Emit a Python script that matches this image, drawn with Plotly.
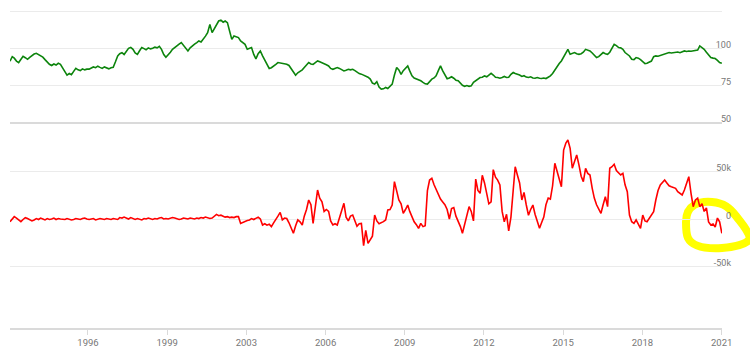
import pandas as pd
import plotly.graph_objects as go

# ---------------- data (monthly) ----------------
dates = pd.date_range("1994-01-01", "2021-01-01", freq="MS")

dollar_index = [
    # 1994
    91.4, 94.5, 93.5, 91.5, 90.5, 92.5, 94.7, 93.8, 92.7, 94.0, 95.5, 96.3,
    # 1995
    96.8, 96.0, 95.5, 94.2, 92.5, 90.5, 89.3, 88.5, 89.5, 88.8, 90.0, 89.3,
    # 1996
    86.5, 84.0, 81.9, 83.0, 82.2, 84.5, 86.6, 85.5, 85.0, 86.2, 85.5, 86.0,
    # 1997
    86.0, 86.8, 87.5, 87.0, 88.0, 87.2, 86.5, 87.5, 86.8, 86.2, 87.0, 87.3,
    # 1998
    91.0, 95.0, 96.5, 97.2, 96.0, 98.0, 100.2, 100.8, 99.5, 97.0, 96.1, 98.5,
    # 1999
    100.8, 100.0, 99.2, 100.5, 99.8, 100.2, 101.0, 100.5, 101.5, 99.5, 96.0, 94.1,
    # 2000
    95.5, 97.5, 99.5, 100.5, 101.5, 103.0, 104.1, 102.0, 100.0, 98.4, 100.5, 102.0,
    # 2001
    103.0, 104.1, 105.2, 104.5, 106.3, 108.5, 110.9, 116.5, 110.9, 113.5, 116.0, 118.8,
    # 2002
    119.4, 118.0, 118.8, 117.7, 112.0, 106.3, 108.6, 108.0, 107.5, 105.2, 104.0, 102.9,
    # 2003
    99.5, 100.0, 100.7, 96.0, 93.0, 96.5, 98.4, 95.0, 92.0, 89.3, 86.5, 87.0,
    # 2004
    88.5, 89.3, 90.5, 90.2, 90.0, 89.5, 89.3, 88.5, 86.0, 84.0, 81.9, 83.5,
    # 2005
    84.5, 85.5, 87.1, 88.5, 90.5, 89.5, 89.3, 90.5, 91.6, 91.0, 90.5, 89.5,
    # 2006
    89.0, 88.2, 86.5, 85.9, 86.5, 87.1, 86.5, 85.5, 84.8, 85.3, 85.9, 85.5,
    # 2007
    85.9, 85.0, 84.0, 83.0, 82.6, 82.0, 81.4, 80.5, 79.2, 76.5, 75.8, 77.5,
    # 2008
    73.8, 72.4, 72.6, 73.5, 72.8, 74.5, 75.8, 82.0, 87.1, 85.5, 82.5, 85.0,
    # 2009
    86.5, 88.2, 84.8, 81.5, 80.0, 79.5, 78.5, 78.1, 77.0, 76.0, 75.8, 77.5,
    # 2010
    79.2, 80.0, 81.4, 85.0, 88.2, 84.8, 82.0, 79.5, 80.0, 80.8, 79.8, 78.5,
    # 2011
    78.1, 76.5, 75.0, 74.3, 74.8, 74.3, 74.6, 77.0, 78.1, 79.0, 80.3, 80.5,
    # 2012
    81.4, 80.8, 82.0, 83.2, 82.0, 80.5, 80.3, 79.8, 80.3, 81.0, 80.3, 80.5,
    # 2013
    82.5, 83.7, 83.0, 82.6, 82.0, 81.0, 81.5, 80.6, 80.3, 80.8, 80.0, 79.8,
    # 2014
    80.3, 79.8, 79.6, 80.0, 79.6, 80.5, 81.4, 83.0, 85.5, 88.2, 89.8, 91.6,
    # 2015
    94.5, 97.5, 99.5, 96.1, 96.8, 97.3, 96.5, 96.1, 96.5, 97.5, 99.5, 99.0,
    # 2016
    98.4, 97.0, 95.5, 93.9, 94.5, 96.0, 97.3, 96.5, 96.1, 97.5, 100.0, 102.9,
    # 2017
    102.0, 100.7, 100.5, 99.5, 97.3, 96.0, 95.0, 92.7, 92.5, 93.9, 93.5, 92.5,
    # 2018
    91.0, 89.8, 90.0, 90.5, 91.5, 94.5, 95.0, 94.8, 95.4, 96.0, 96.5, 97.0,
    # 2019
    97.3, 97.0, 97.3, 97.5, 97.7, 97.2, 98.0, 98.4, 98.0, 98.4, 98.2, 98.4,
    # 2020
    98.4, 99.0, 101.8, 100.5, 99.5, 97.5, 95.5, 93.9, 93.5, 93.2, 92.0, 90.5,
    # 2021
    90.0,
]

net_positions_k = [
    # 1994
    -2.8, 0.5, 2.5, 1.0, -1.0, -2.8, -0.5, 1.4, 0.5, -0.5, -2.0, -1.0,
    # 1995
    0.5, -0.5, 1.0, 0.0, -1.0, 0.5, -0.5, 0.0, 1.0, -0.5, 0.5, 0.0,
    # 1996
    0.0, -0.5, 0.5, 0.0, -1.0, -0.5, 0.5, 0.0, -0.5, 0.5, 1.0, 0.0,
    # 1997
    -0.5, 0.0, 0.5, -1.0, 0.0, 0.5, 0.0, -0.5, 0.5, 0.0, -0.5, 0.5,
    # 1998
    0.0, -0.5, 1.5, 1.0, 2.0, 1.0, 0.0, 1.5, 0.5, -0.5, 0.5, 0.0,
    # 1999
    -1.0, 0.5, 0.0, 1.0, 0.0, -0.5, 0.5, 0.0, 1.0, 1.5, 0.0, 0.5,
    # 2000
    0.0, 0.5, 1.5, 1.0, 0.5, -0.5, 0.0, 1.0, 0.5, 0.0, 1.0, 0.5,
    # 2001
    0.0, 1.0, 0.5, 1.5, 1.0, 2.0, 1.5, 0.5, 1.0, 2.5, 4.9, 3.5,
    # 2002
    4.0, 3.0, 2.0, 2.5, 1.5, 2.0, 1.5, 2.5, 2.5, -4.6, -3.5, -2.0,
    # 2003
    -1.5, -1.0, 0.5, -0.5, 1.0, 2.0, 0.0, -6.3, -5.0, -6.5, -5.5, -8.0,
    # 2004
    -4.0, 0.5, 3.0, 7.0, -1.0, 1.0, 0.5, -4.0, -10.0, -15.0, -7.0, -1.0,
    # 2005
    -3.0, -6.3, 3.0, 10.0, 20.0, 15.0, -4.6, 12.0, 30.5, 22.0, 18.2, 8.0,
    # 2006
    10.0, 8.0, -2.0, -6.3, -5.0, -6.3, 2.0, 10.0, 16.5, 2.0, -2.0, 3.0,
    # 2007
    4.2, -2.0, -7.7, -5.0, -4.6, -28.0, -12.0, -25.6, -22.0, -18.0, 4.2, -2.0,
    # 2008
    -5.0, -4.0, -2.8, -1.0, 9.5, 10.0, 14.7, 39.3, 28.0, 20.0, 16.0, 6.0,
    # 2009
    10.0, 14.7, 8.0, 2.0, -3.0, -6.0, -9.8, -4.6, -8.0, -7.0, 30.0, 41.0,
    # 2010
    42.8, 36.0, 31.0, 27.0, 21.0, 18.0, 15.0, 10.0, 0.0, 11.0, 12.0, 3.0,
    # 2011
    -2.0, -8.0, -15.0, -5.0, 4.2, 13.0, 8.0, -2.0, 42.0, 30.0, 27.0, 46.0,
    # 2012
    38.0, 26.0, 16.0, 18.0, 52.0, 44.0, 41.0, 35.8, 8.0, -3.0, 5.0, -12.6,
    # 2013
    2.0, 30.0, 55.0, 46.0, 38.0, 20.0, 28.0, 15.0, 4.0, 10.0, 14.7, 5.0,
    # 2014
    -2.8, -9.8, -4.0, 2.0, 15.0, 22.0, 21.0, 35.0, 58.6, 50.0, 42.0, 34.0,
    # 2015
    72.6, 80.0, 83.2, 74.4, 53.4, 60.0, 67.4, 57.0, 45.0, 39.3, 53.4, 48.0,
    # 2016
    46.3, 32.3, 22.0, 15.0, 11.2, 6.0, 15.0, 23.5, 13.0, 53.4, 55.0, 57.6,
    # 2017
    51.0, 48.0, 46.3, 48.0, 36.0, 28.7, 4.2, -2.8, -4.6, -1.0, -6.0, -9.8,
    # 2018
    4.2, -2.0, -2.8, 0.7, 3.0, 7.7, 20.0, 30.0, 35.8, 38.0, 41.0, 38.0,
    # 2019
    35.0, 34.0, 33.0, 32.3, 28.7, 27.0, 25.3, 30.5, 38.0, 44.5, 27.0, 13.0,
    # 2020
    20.0, 22.0, 13.0, 16.0, 8.0, 11.6, -3.0, -6.3, -5.3, -8.4, 1.0, -3.0,
    # 2021
    -15.0,
]

tick_dates = ["1996-12-16", "1999-12-18", "2002-12-19", "2005-12-21", "2008-12-22",
              "2011-12-24", "2014-12-26", "2017-12-27", "2020-12-29"]
tick_labels = ["1996", "1999", "2003", "2006", "2009", "2012", "2015", "2018", "2021"]

top_ticks = [50, 75, 100, 125]
top_tick_labels = ["50", "75", "100", ""]
bottom_ticks = [-50000, 0, 50000]
bottom_tick_labels = ["-50k", "0", "50k"]

# ---------------- figure ----------------
W, H = 750, 354
ML, MR, MT, MB = 10, 28, 0, 26
PW, PH = W - ML - MR, H - MT - MB
split = (PH - 122) / PH

GRID = "#ebebeb"
AXIS = "#dadada"
LABEL = "#777777"
FONT = "Roboto"

fig = go.Figure()
fig.add_trace(go.Scatter(
    x=dates, y=dollar_index, mode="lines",
    line=dict(color="#0c840c", width=1.6),
    xaxis="x2", yaxis="y", hoverinfo="skip", showlegend=False))
fig.add_trace(go.Scatter(
    x=dates, y=[v * 1000 for v in net_positions_k], mode="lines",
    line=dict(color="#ff0000", width=1.6),
    xaxis="x", yaxis="y2", hoverinfo="skip", showlegend=False))


def px_to_paper(px, py):
    return (px - ML) / PW, (H - MB - py) / PH


loop_px = [
    ("M", [(686, 222)]),
    ("C", [(686, 204), (700, 201), (712, 202)]),
    ("C", [(724, 203), (730, 208), (736, 216)]),
    ("C", [(742, 224), (748, 230), (750, 238)]),
    ("C", [(748, 244), (735, 247), (722, 248)]),
    ("C", [(705, 249), (692, 246), (688, 238)]),
    ("C", [(686, 234), (686, 228), (686, 222)]),
]
path = ""
for cmd, pts in loop_px:
    path += cmd + " " + " ".join("%.5f,%.5f" % px_to_paper(*p) for p in pts) + " "
path += "Z"

fig.add_shape(type="path", path=path, xref="paper", yref="paper",
              line=dict(color="#ffff00", width=8), layer="between")

date_range = ["1994-01-01", "2021-01-03"]

fig.update_layout(
    width=W, height=H,
    margin=dict(l=ML, r=MR, t=MT, b=MB, pad=0),
    paper_bgcolor="white", plot_bgcolor="white",
    font=dict(family=FONT, size=9, color=LABEL),
    showlegend=False,
    xaxis=dict(
        domain=[0, 1], anchor="y2", type="date", range=date_range,
        tickmode="array", tickvals=tick_dates, ticktext=tick_labels,
        showgrid=False, zeroline=False,
        showline=True, linecolor=AXIS, linewidth=2,
        ticks="outside", ticklen=5, tickcolor=AXIS, tickwidth=1,
        ticklabeloverflow="allow",
        tickfont=dict(family=FONT, size=9.5, color=LABEL),
    ),
    xaxis2=dict(
        domain=[0, 1], anchor="y", type="date", matches="x", range=date_range,
        showticklabels=False, showgrid=False, zeroline=False,
        showline=True, linecolor=AXIS, linewidth=2, ticks="",
    ),
    yaxis=dict(
        domain=[split, 1], anchor="x2", side="right", range=[50, 133.1],
        tickmode="array", tickvals=top_ticks, ticktext=top_tick_labels,
        showgrid=True, gridcolor=GRID, gridwidth=1, zeroline=False, showline=False,
        ticks="", ticklabelposition="inside top", ticklabelstandoff=-12,
        ticklabelshift=3, ticklabeloverflow="allow",
        tickfont=dict(family=FONT, size=9, color=LABEL),
    ),
    yaxis2=dict(
        domain=[0, split], anchor="x", side="right", range=[-114700, 102100],
        tickmode="array", tickvals=bottom_ticks, ticktext=bottom_tick_labels,
        showgrid=True, gridcolor=GRID, gridwidth=1, zeroline=False, showline=False,
        ticks="", ticklabelposition="inside top", ticklabelstandoff=-12,
        ticklabelshift=3, ticklabeloverflow="allow",
        tickfont=dict(family=FONT, size=9, color=LABEL),
    ),
)

fig.write_html("out.html")
